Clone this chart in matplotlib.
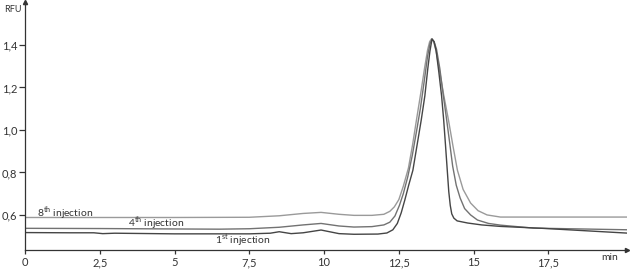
import matplotlib
matplotlib.use("Agg")
import matplotlib.pyplot as plt
from matplotlib.ticker import FuncFormatter

plt.rcParams['font.family'] = ['Lato', 'DejaVu Sans']

# 8th injection (lightest trace)
t8 = [0, 2.5, 5, 7.5, 8.5, 9.3, 9.9, 10.5, 11.0, 11.6, 12.0, 12.2, 12.35, 12.5,
      12.65, 12.82, 12.96, 13.09, 13.23, 13.36, 13.46, 13.53, 13.59, 13.66, 13.74,
      13.86, 14.0, 14.16, 14.31, 14.46, 14.65, 14.9, 15.15, 15.45, 15.9, 17.5, 20.2]
y8 = [0.588, 0.588, 0.588, 0.589, 0.596, 0.607, 0.612, 0.603, 0.598, 0.598, 0.603,
      0.617, 0.638, 0.672, 0.735, 0.82, 0.93, 1.047, 1.17, 1.29, 1.375, 1.415, 1.428,
      1.417, 1.375, 1.28, 1.165, 1.047, 0.925, 0.81, 0.72, 0.656, 0.62, 0.60, 0.59,
      0.59, 0.59]

# 4th injection
t4 = [0, 2.5, 5, 6.5, 7.5, 8.5, 9.3, 9.9, 10.5, 11.0, 11.6, 12.0, 12.2, 12.37,
      12.52, 12.65, 12.8, 12.95, 13.1, 13.22, 13.35, 13.46, 13.54, 13.61, 13.68,
      13.76, 13.87, 13.98, 14.1, 14.2, 14.3, 14.42, 14.55, 14.7, 14.9, 15.13, 15.5,
      15.9, 17.0, 20.2]
y4 = [0.537, 0.536, 0.534, 0.533, 0.535, 0.542, 0.553, 0.560, 0.548, 0.543, 0.545,
      0.553, 0.566, 0.595, 0.645, 0.70, 0.78, 0.88, 1.0, 1.1, 1.23, 1.345, 1.405,
      1.428, 1.415, 1.38, 1.29, 1.17, 1.047, 0.94, 0.83, 0.74, 0.68, 0.63, 0.60,
      0.576, 0.56, 0.552, 0.538, 0.530]

# 1st injection (darkest trace)
t1 = [0, 1.5, 2.3, 2.6, 3.0, 5, 7.5, 8.2, 8.5, 8.9, 9.3, 9.9, 10.5, 11.0, 11.8,
      12.1, 12.3, 12.45, 12.58, 12.7, 12.83, 12.97, 13.1, 13.25, 13.37, 13.47,
      13.54, 13.61, 13.68, 13.75, 13.84, 13.93, 14.0, 14.06, 14.12, 14.17, 14.22,
      14.27, 14.34, 14.45, 14.8, 15.27, 15.9, 17.3, 20.2]
y1 = [0.517, 0.516, 0.516, 0.512, 0.514, 0.511, 0.511, 0.514, 0.521, 0.512, 0.516,
      0.529, 0.512, 0.509, 0.510, 0.515, 0.53, 0.56, 0.61, 0.67, 0.74, 0.81, 0.92,
      1.047, 1.16, 1.29, 1.37, 1.428, 1.415, 1.37, 1.27, 1.16, 1.047, 0.93, 0.81,
      0.71, 0.645, 0.605, 0.585, 0.572, 0.562, 0.553, 0.546, 0.537, 0.514]

x_ticks = [0, 2.5, 5, 7.5, 10, 12.5, 15, 17.5]
y_ticks = [0.6, 0.8, 1.0, 1.2, 1.4]

fig = plt.figure(figsize=(6.3, 2.74), dpi=100)
ax = fig.add_axes([25 / 630, 24 / 274, 602 / 630, 248 / 274])

ax.plot(t8, y8, color='#9a9a9a', lw=1.0)
ax.plot(t4, y4, color='#727272', lw=1.0)
ax.plot(t1, y1, color='#454545', lw=1.0)

ax.set_xlim(0, 20.13)
ax.set_ylim(0.435, 1.602)

for s in ['top', 'right']:
    ax.spines[s].set_visible(False)
for s in ['left', 'bottom']:
    ax.spines[s].set_color('#333333')
    ax.spines[s].set_linewidth(0.9)

# arrow heads at the axis ends
ax.plot(1, 0, '>', color='#333333', ms=3, transform=ax.transAxes, clip_on=False)
ax.plot(0, 1, '^', color='#333333', ms=3, transform=ax.transAxes, clip_on=False)

ax.set_xticks(x_ticks)
ax.set_yticks(y_ticks)
comma = FuncFormatter(lambda v, p: ('%g' % v).replace('.', ','))
ax.xaxis.set_major_formatter(comma)
ax.yaxis.set_major_formatter(FuncFormatter(lambda v, p: ('%.1f' % v).replace('.', ',')))
ax.tick_params(axis='both', colors='#333333', labelsize=8, width=0.9)
ax.tick_params(axis='x', length=3, pad=2)
ax.tick_params(axis='y', length=4.5, pad=1)

lab = dict(fontsize=7.5, color='#333333', va='center')
ax.text(0.4, 0.609, r'8$^{\mathregular{th}}$ injection', **lab)
ax.text(3.44, 0.562, r'4$^{\mathregular{th}}$ injection', **lab)
ax.text(6.35, 0.478, r'1$^{\mathregular{st}}$ injection', **lab)

fig.text(4 / 630, 1 - 10 / 274, 'RFU', fontsize=6.5, color='#333333', va='center')
fig.text(601 / 630, 1 - 258 / 274, 'min', fontsize=7.5, color='#333333', va='center')

fig.savefig('out.png', dpi=100)
